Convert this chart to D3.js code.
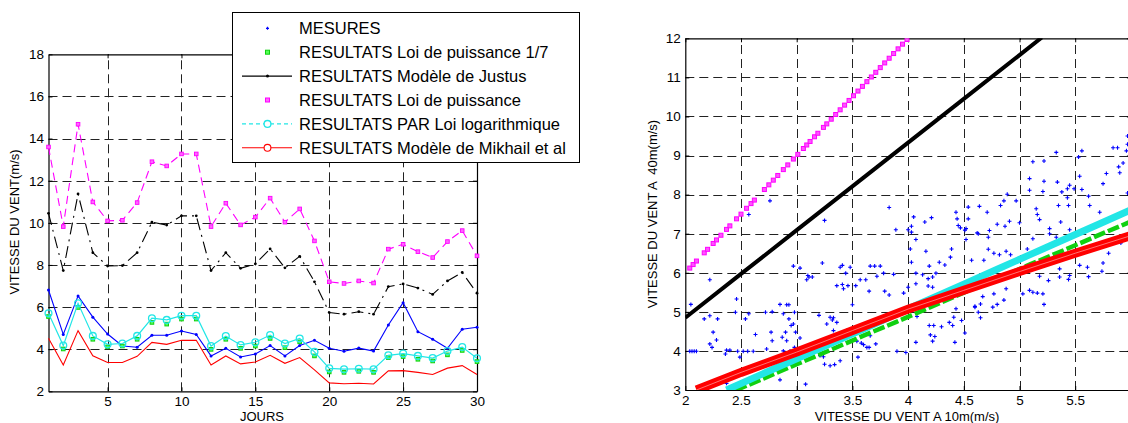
<!DOCTYPE html>
<html>
<head>
<meta charset="utf-8">
<script src="https://cdn.jsdelivr.net/npm/d3@7"></script>
<style>
  body { margin: 0; background: #fff; }
  svg text { font-family: "Liberation Sans", Arial, sans-serif; fill: #000; }
</style>
</head>
<body>
<svg id="chart" width="1128" height="423"></svg>
<script>
// ---- left chart : daily values (m/s) ----
const days = [1,2,3,4,5,6,7,8,9,10,11,12,13,14,15,16,17,18,19,20,21,22,23,24,25,26,27,28,29,30];
const mesures = [6.81,4.70,6.53,5.52,4.72,4.15,4.09,4.66,4.66,4.86,4.70,3.68,4.04,3.63,3.77,4.17,3.68,4.17,4.42,4.04,3.90,4.05,3.91,5.15,6.21,4.83,4.47,4.04,4.95,5.04];
const puissance17 = [5.55,4.01,5.98,4.47,4.11,4.15,4.47,5.27,5.19,5.43,5.43,3.99,4.47,4.04,4.15,4.51,4.07,4.35,3.68,2.92,2.90,2.95,2.90,3.60,3.65,3.52,3.44,3.73,3.94,3.41];
const justus = [10.45,7.73,11.37,8.58,7.95,7.97,8.58,10.03,9.89,10.33,10.33,7.73,8.58,7.84,8.05,8.76,7.86,8.41,7.20,5.74,5.66,5.78,5.66,6.97,7.10,6.90,6.60,7.24,7.64,6.66];
const puissance = [13.60,9.82,14.68,10.99,10.09,10.12,10.96,12.90,12.70,13.27,13.27,9.82,10.93,9.90,10.27,11.17,10.03,10.66,9.14,7.20,7.12,7.24,7.14,8.75,8.98,8.63,8.35,9.11,9.63,8.43];
const logarithmique = [5.70,4.17,6.18,4.63,4.23,4.27,4.63,5.47,5.39,5.59,5.59,4.15,4.62,4.20,4.33,4.67,4.27,4.51,3.87,3.09,3.05,3.07,3.05,3.71,3.79,3.68,3.58,3.91,4.10,3.57];
const mikhail = [4.52,3.25,4.88,3.69,3.37,3.37,3.66,4.32,4.23,4.42,4.42,3.25,3.68,3.30,3.39,3.71,3.33,3.60,3.02,2.40,2.36,2.38,2.35,2.97,2.98,2.90,2.80,3.10,3.22,2.80];
const leftXTicks = [5,10,15,20,25,30];
const leftYTicks = [2,4,6,8,10,12,14,16,18];

// ---- right chart : 40 m speed against 10 m speed ----
const mesX = [2.76,2.57,3.25,2.22,2.05,2.97,3.03,3.10,3.11,3.09,3.14,3.23,2.46,2.45,2.57,2.54,2.17,2.29,2.72,2.78,2.91,2.93,2.88,2.93,2.97,2.98,2.25,2.28,2.22,2.24,2.04,2.06,2.08,2.10,2.37,2.40,2.36,2.47,2.52,2.56,2.61,2.49,2.63,2.77,2.87,2.90,2.73,2.88,2.94,2.99,3.03,3.20,3.27,3.30,3.25,3.30,2.85,3.08,2.37,2.22,2.85,2.91,2.95,2.78,2.98,3.21,3.24,
  3.83,4.05,4.15,4.21,3.89,4.00,4.03,4.03,4.07,4.43,4.44,4.45,4.47,4.51,4.52,4.54,4.54,4.52,4.62,4.02,4.03,4.16,4.39,4.38,4.57,3.39,3.41,3.48,3.66,3.70,3.75,3.72,3.44,3.78,3.87,4.19,4.28,4.33,4.07,4.13,4.18,4.22,4.25,3.57,3.62,3.36,3.41,3.42,3.46,3.53,3.65,3.79,3.83,3.96,4.00,4.07,4.18,4.22,3.50,3.33,3.32,3.36,3.33,3.34,3.45,3.54,3.58,3.60,3.63,3.65,3.55,3.34,3.39,3.66,3.71,3.90,3.98,4.08,4.07,4.19,4.23,4.20,4.24,4.22,4.30,4.37,4.41,4.40,4.43,4.42,4.48,4.51,4.60,
  5.33,5.12,5.22,5.53,5.56,5.84,5.88,5.96,5.97,5.97,5.93,5.89,5.90,5.78,5.09,5.22,5.34,5.54,5.75,5.45,5.49,5.43,5.56,5.09,5.21,5.38,5.43,4.89,4.86,4.83,4.97,4.64,4.71,5.15,5.16,5.18,5.35,5.44,5.62,5.63,5.72,5.97,4.80,4.87,4.91,5.00,4.73,4.72,4.63,5.27,5.27,5.37,5.45,5.12,5.33,4.72,4.77,4.82,4.88,4.92,4.68,5.07,5.42,5.80,5.91,5.54,5.61,5.62,5.75,5.74,5.36,5.45,5.44,5.36,5.18,5.26,4.88,4.77,4.67,5.03,5.09,5.12,5.16,5.21,4.86,4.80,4.76,5.22,4.65,4.60,4.63,4.65];
const mesY = [7.84,7.49,7.34,5.82,5.19,6.17,6.12,5.93,5.89,5.82,5.89,6.25,5.33,4.99,4.95,4.82,4.82,4.82,4.99,5.00,5.18,5.18,4.95,4.82,4.69,4.99,4.48,4.28,4.18,4.09,3.99,3.99,3.99,3.99,4.02,4.02,3.92,3.99,3.99,3.99,3.99,3.84,4.42,4.48,4.35,4.48,4.05,4.00,4.00,4.48,4.33,4.91,4.69,4.86,3.66,3.62,3.26,3.15,3.17,4.90,5.19,4.26,4.65,4.26,4.09,3.88,3.85,
  7.67,7.43,7.30,7.41,7.10,7.10,7.19,7.04,6.85,7.55,7.38,7.21,7.15,7.09,7.13,7.68,7.38,6.85,7.02,6.61,6.27,6.55,6.61,6.40,6.32,6.14,6.19,6.14,6.17,6.17,6.17,5.91,5.99,5.99,5.96,6.17,6.27,6.20,5.99,5.95,5.85,5.89,5.99,5.82,5.82,5.67,5.70,5.59,5.67,5.67,5.53,5.53,5.43,5.48,5.63,5.72,5.66,5.63,5.18,4.85,4.79,4.73,4.52,4.35,4.52,4.25,4.20,4.16,4.09,4.09,3.84,3.65,3.75,4.39,4.18,3.99,3.96,4.88,4.22,4.65,4.65,4.41,4.37,4.25,4.62,4.73,4.86,4.65,5.08,4.22,4.78,4.46,5.12,
  9.08,8.84,8.86,8.96,9.12,9.20,9.20,9.12,9.50,9.29,8.81,8.71,8.56,8.54,8.41,8.34,8.32,8.47,8.28,8.24,8.15,8.15,8.13,8.11,8.08,8.07,7.92,8.01,7.84,7.72,7.84,7.70,7.55,7.64,7.49,7.36,7.72,7.72,7.96,7.72,7.55,8.04,7.24,7.19,7.32,7.28,7.08,6.91,7.00,7.13,7.00,7.30,7.10,6.87,6.91,6.60,6.50,6.46,6.55,6.46,6.32,6.61,6.38,6.50,6.76,6.19,6.14,5.90,6.25,6.04,6.10,5.93,5.83,5.89,5.91,5.80,5.59,5.46,5.39,5.46,5.55,5.50,5.48,5.46,5.30,5.19,5.12,5.19,5.20,5.14,4.99,4.85];
const puis17X = [2.45,2.70,3.00,3.30,3.60,3.90,4.20,4.50,4.80,5.10,5.40,5.70,6.00];
const puis17Y = [2.99,3.29,3.66,4.02,4.39,4.75,5.12,5.49,5.85,6.22,6.58,6.95,7.31];
const justusX = [2.00,2.50,3.00,3.50,4.00,4.50,5.00,5.20];
const justusY = [4.85,5.97,7.09,8.21,9.33,10.45,11.57,12.02];
const puisX = [2.04,2.07,2.10,2.17,2.20,2.25,2.28,2.32,2.37,2.40,2.46,2.50,2.55,2.59,2.62,2.71,2.75,2.79,2.83,2.88,2.92,2.97,3.01,3.06,3.09,3.12,3.16,3.19,3.24,3.27,3.31,3.35,3.39,3.43,3.47,3.51,3.55,3.59,3.63,3.67,3.71,3.75,3.79,3.83,3.87,3.91,3.95,3.99];
const puisY = [6.12,6.21,6.30,6.51,6.60,6.75,6.84,6.96,7.11,7.20,7.38,7.50,7.65,7.77,7.86,8.13,8.25,8.37,8.49,8.64,8.76,8.91,9.03,9.18,9.27,9.36,9.48,9.57,9.72,9.81,9.93,10.05,10.17,10.29,10.41,10.53,10.65,10.77,10.89,11.01,11.13,11.25,11.37,11.49,11.61,11.73,11.85,11.97];
const logX = [2.37,2.70,3.00,3.30,3.60,3.90,4.20,4.50,4.80,5.10,5.40,5.70,6.00];
const logY = [3.00,3.42,3.80,4.18,4.56,4.95,5.33,5.71,6.09,6.47,6.85,7.23,7.61];
const mikX = [2.10,2.50,3.00,3.50,4.00,4.50,5.00,5.50,6.00];
const mikY = [3.00,3.45,3.97,4.52,5.07,5.55,6.03,6.50,6.95];
const rightXTicks = [2,2.5,3,3.5,4,4.5,5,5.5];
const rightYTicks = [3,4,5,6,7,8,9,10,11,12];

const legendLabels = [
  "MESURES",
  "RESULTATS Loi de puissance 1/7",
  "RESULTATS Modèle de Justus",
  "RESULTATS Loi de puissance",
  "RESULTATS PAR Loi logarithmique",
  "RESULTATS Modèle de Mikhail et al"
];

const BLUE = "#0000ff", GREEN = "#10d010", MAGENTA = "#ff00ff", CYAN = "#22e6e6", RED = "#ff0000";

const svg = d3.select("#chart");

const xLeft = d3.scaleLinear().domain([1, 30]).range([48.5, 477]);
const yLeft = d3.scaleLinear().domain([2, 18]).range([391.3, 54.3]);
const xRight = d3.scaleLinear().domain([2, 6]).range([685.3, 1130.9]);
const yRight = d3.scaleLinear().domain([3, 12]).range([390, 38.3]);

function frame(g, x, y, xTicks, yTicks) {
  const [x0, x1] = x.range();
  const [y0, y1] = y.range();
  const grid = g.append("g").attr("stroke", "#222").attr("stroke-dasharray", "9,5").attr("stroke-width", 1);
  grid.selectAll(".gx").data(xTicks.filter(t => x(t) > x0 + 1 && x(t) < x1 - 1)).enter().append("line")
    .attr("x1", d => Math.round(x(d)) + 0.5).attr("x2", d => Math.round(x(d)) + 0.5)
    .attr("y1", y0).attr("y2", y1);
  grid.selectAll(".gy").data(yTicks.filter(t => y(t) < y0 - 1 && y(t) > y1 + 1)).enter().append("line")
    .attr("y1", d => Math.round(y(d)) + 0.5).attr("y2", d => Math.round(y(d)) + 0.5)
    .attr("x1", x0).attr("x2", x1);

  const axes = [
    g.append("g").attr("transform", `translate(0,${y0})`)
      .call(d3.axisBottom(x).tickValues(xTicks).tickSize(-4).tickSizeOuter(0).tickPadding(5.5).tickFormat(d => d)),
    g.append("g").attr("transform", `translate(0,${y1})`)
      .call(d3.axisTop(x).tickValues(xTicks).tickSize(-4).tickSizeOuter(0).tickFormat("")),
    g.append("g").attr("transform", `translate(${x0},0)`)
      .call(d3.axisLeft(y).tickValues(yTicks).tickSize(-4).tickSizeOuter(0).tickPadding(4.5).tickFormat(d => d)),
    g.append("g").attr("transform", `translate(${x1},0)`)
      .call(d3.axisRight(y).tickValues(yTicks).tickSize(-4).tickSizeOuter(0).tickFormat(""))
  ];
  axes.forEach(a => {
    a.attr("font-family", null).attr("font-size", 13.5);
    a.select(".domain").attr("stroke", "#000").attr("stroke-width", 1.2);
    a.selectAll(".tick line").attr("stroke", "#000");
  });
}

// ================= LEFT CHART =================
const gL = svg.append("g");
frame(gL, xLeft, yLeft, leftXTicks, leftYTicks);

const lineL = d3.line().x((d, i) => xLeft(days[i])).y(d => yLeft(d));

// MESURES
gL.append("path").attr("d", lineL(mesures)).attr("fill", "none").attr("stroke", BLUE).attr("stroke-width", 1.1);
gL.selectAll(".mb").data(mesures).enter().append("circle")
  .attr("cx", (d, i) => xLeft(days[i])).attr("cy", d => yLeft(d)).attr("r", 1.5).attr("fill", BLUE);

// Loi de puissance 1/7 (markers only)
gL.selectAll(".mg").data(puissance17).enter().append("rect")
  .attr("x", (d, i) => xLeft(days[i]) - 1.8).attr("y", d => yLeft(d) - 1.8).attr("width", 3.6).attr("height", 3.6)
  .attr("fill", "#55ff55").attr("stroke", GREEN).attr("stroke-width", 1);

// Justus
gL.append("path").attr("d", lineL(justus)).attr("fill", "none").attr("stroke", "#000")
  .attr("stroke-width", 1.1).attr("stroke-dasharray", "12,5,2,5");
gL.selectAll(".mk").data(justus).enter().append("circle")
  .attr("cx", (d, i) => xLeft(days[i])).attr("cy", d => yLeft(d)).attr("r", 1.4).attr("fill", "#000");

// Loi de puissance
gL.append("path").attr("d", lineL(puissance)).attr("fill", "none").attr("stroke", MAGENTA)
  .attr("stroke-width", 1.1).attr("stroke-dasharray", "8,5");
gL.selectAll(".mm").data(puissance).enter().append("rect")
  .attr("x", (d, i) => xLeft(days[i]) - 1.8).attr("y", d => yLeft(d) - 1.8).attr("width", 3.6).attr("height", 3.6)
  .attr("fill", "#ff66ff").attr("stroke", MAGENTA).attr("stroke-width", 0.9);

// Loi logarithmique
gL.append("path").attr("d", lineL(logarithmique)).attr("fill", "none").attr("stroke", CYAN).attr("stroke-width", 1.2);
gL.selectAll(".mc").data(logarithmique).enter().append("circle")
  .attr("cx", (d, i) => xLeft(days[i])).attr("cy", d => yLeft(d)).attr("r", 3.4)
  .attr("fill", "none").attr("stroke", CYAN).attr("stroke-width", 1.3);

// Mikhail
gL.append("path").attr("d", lineL(mikhail)).attr("fill", "none").attr("stroke", RED).attr("stroke-width", 1.1);

gL.append("text").attr("x", 262).attr("y", 421).attr("text-anchor", "middle").attr("font-size", 13).text("JOURS");
gL.append("text").attr("transform", "translate(19,222) rotate(-90)").attr("text-anchor", "middle")
  .attr("font-size", 13).text("VITESSE DU VENT(m/s)");

// ================= RIGHT CHART =================
const gR = svg.append("g");
frame(gR, xRight, yRight, rightXTicks, rightYTicks);

svg.append("clipPath").attr("id", "clipR").append("rect")
  .attr("x", xRight(2)).attr("y", yRight(12)).attr("width", xRight(6) - xRight(2)).attr("height", yRight(3) - yRight(12));
const pR = gR.append("g").attr("clip-path", "url(#clipR)");

const plus = "M-2,0H2M0,-2V2";
pR.selectAll(".pb").data(mesX).enter().append("path")
  .attr("transform", (d, i) => `translate(${xRight(d)},${yRight(mesY[i])})`)
  .attr("d", plus).attr("stroke", BLUE).attr("stroke-width", 1.1);

const lineXY = (xs, ys) => d3.line().x((d, i) => xRight(xs[i])).y((d, i) => yRight(ys[i]))(xs);

pR.append("path").attr("d", lineXY(puis17X, puis17Y)).attr("fill", "none").attr("stroke", GREEN)
  .attr("stroke-width", 4.5).attr("stroke-dasharray", "12,3");
pR.append("path").attr("d", lineXY(justusX, justusY)).attr("fill", "none").attr("stroke", "#000").attr("stroke-width", 4);
pR.selectAll(".pm").data(puisX).enter().append("rect")
  .attr("x", d => xRight(d) - 2).attr("y", (d, i) => yRight(puisY[i]) - 2).attr("width", 4).attr("height", 4)
  .attr("fill", "#ff55ff").attr("stroke", MAGENTA).attr("stroke-width", 1);
pR.append("path").attr("d", lineXY(logX, logY)).attr("fill", "none").attr("stroke", CYAN).attr("stroke-width", 7);
pR.append("path").attr("d", lineXY(mikX, mikY)).attr("fill", "none").attr("stroke", RED).attr("stroke-width", 9);
pR.append("path").attr("d", lineXY(mikX, mikY)).attr("fill", "none").attr("stroke", "#ff9090").attr("stroke-width", 0.8);

gR.append("text").attr("x", 907).attr("y", 421).attr("text-anchor", "middle").attr("font-size", 13)
  .text("VITESSE DU VENT A 10m(m/s)");
gR.append("text").attr("transform", "translate(657,214) rotate(-90)").attr("text-anchor", "middle")
  .attr("font-size", 13).style("white-space", "pre").text("VITESSE DU VENT A  40m(m/s)");

// ================= LEGEND =================
const leg = svg.append("g");
leg.append("rect").attr("x", 232.5).attr("y", 12.5).attr("width", 347).attr("height", 150)
  .attr("fill", "#fff").attr("stroke", "#000").attr("stroke-width", 1);
const rowY = i => 28.3 + i * 23.9;
const mx = 267.5;
// MESURES
leg.append("path").attr("transform", `translate(${mx},${rowY(0)})`).attr("d", "M-1.5,0H1.5M0,-1.5V1.5")
  .attr("stroke", BLUE).attr("stroke-width", 1.2);
// 1/7
leg.append("rect").attr("x", mx - 2).attr("y", rowY(1) - 2).attr("width", 4).attr("height", 4)
  .attr("fill", "#55ff55").attr("stroke", GREEN);
// Justus
leg.append("line").attr("x1", 242).attr("x2", 292).attr("y1", rowY(2)).attr("y2", rowY(2)).attr("stroke", "#000").attr("stroke-width", 1.1);
leg.append("circle").attr("cx", mx).attr("cy", rowY(2)).attr("r", 1.5).attr("fill", "#000");
// puissance
leg.append("rect").attr("x", mx - 2).attr("y", rowY(3) - 2).attr("width", 4).attr("height", 4)
  .attr("fill", "#ff66ff").attr("stroke", MAGENTA);
// log
leg.append("line").attr("x1", 242).attr("x2", 292).attr("y1", rowY(4)).attr("y2", rowY(4)).attr("stroke", CYAN)
  .attr("stroke-width", 1.2).attr("stroke-dasharray", "4,3");
leg.append("circle").attr("cx", mx).attr("cy", rowY(4)).attr("r", 3.4).attr("fill", "#fff").attr("stroke", CYAN).attr("stroke-width", 1.3);
// Mikhail
leg.append("line").attr("x1", 242).attr("x2", 292).attr("y1", rowY(5)).attr("y2", rowY(5)).attr("stroke", RED).attr("stroke-width", 1.1);
leg.append("circle").attr("cx", mx).attr("cy", rowY(5)).attr("r", 3.4).attr("fill", "#fff").attr("stroke", RED).attr("stroke-width", 1.1);

leg.selectAll(".lt").data(legendLabels).enter().append("text")
  .attr("x", 299).attr("y", (d, i) => rowY(i) + 6).attr("font-size", 16.5).text(d => d);
</script>
</body>
</html>
